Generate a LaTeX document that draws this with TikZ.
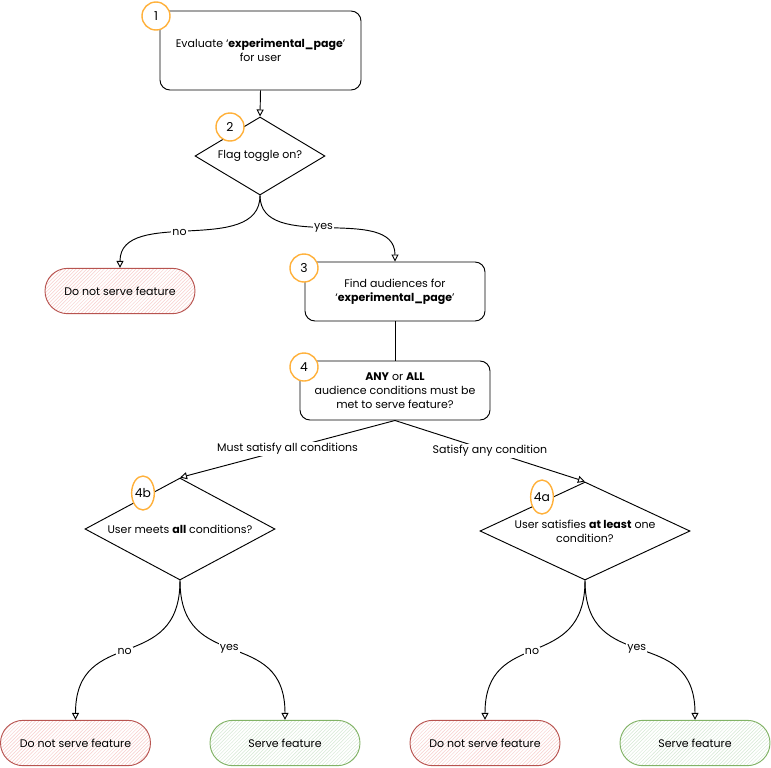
\documentclass[tikz,border=0pt]{standalone}
\usepackage{fontspec}
\setmainfont{Poppins}
\usetikzlibrary{arrows.meta, shapes.geometric, patterns}

\definecolor{badgeorange}{HTML}{FFB13B}
\definecolor{nostroke}{HTML}{B85450}
\definecolor{nofill}{HTML}{F8CECC}
\definecolor{yesstroke}{HTML}{82B366}
\definecolor{yesfill}{HTML}{D5E8D4}

\begin{document}
\begin{tikzpicture}[x=0.3mm, y=-0.3mm, font=\fontsize{9.4}{12}\selectfont,
	stepbox/.style={draw, thick, rounded corners=3mm, align=center, fill=white},
	decision/.style={draw, thick, diamond, inner sep=0, fill=white},
	nopill/.style={draw=nostroke, thick, rounded corners=6.8mm, minimum width=45mm, minimum height=13.6mm,
		preaction={fill=white}, pattern=north east lines, pattern color=nofill},
	yespill/.style={draw=yesstroke, thick, rounded corners=6.8mm, minimum width=45mm, minimum height=13.6mm,
		preaction={fill=white}, pattern=north east lines, pattern color=yesfill},
	badge/.style={draw=badgeorange, line width=1.2pt, fill=white, circle, minimum size=8.4mm, inner sep=0,
		font=\fontsize{10.5}{12}\selectfont},
	tallbadge/.style={badge, ellipse, minimum width=6.6mm, minimum height=10.2mm},
	flow/.style={thick, -{Triangle[open, length=6pt, width=6pt]}},
	tag/.style={fill=white, inner sep=1pt}]
\useasboundingbox (0,0) rectangle (771,767);

\node[stepbox, minimum width=60.3mm, minimum height=23.7mm] (s1) at (260.5,50.5)
	{Evaluate `\textbf{experimental\_page}'\\for user};
\node[decision, minimum width=39mm, minimum height=23.4mm, label={center:Flag toggle on?}] (d2) at (260,156) {};
\node[nopill] (no2) at (120,291) {Do not serve feature};
\node[stepbox, minimum width=54mm, minimum height=17.7mm] (s3) at (395,291.5)
	{Find audiences for\\`\textbf{experimental\_page}'};
\node[stepbox, minimum width=57mm, minimum height=17.7mm] (s4) at (395,390.5)
	{\textbf{ANY} or \textbf{ALL}\\audience conditions must be\\met to serve feature?};
\node[decision, minimum width=57mm, minimum height=30.6mm,
	label={center:User meets \textbf{all} conditions?}] (d4b) at (180,529) {};
\node[decision, minimum width=63mm, minimum height=29.4mm,
	label={[align=center]center:User satisfies \textbf{at least} one\\condition?}] (d4a) at (585,531) {};
\node[nopill] (no4b) at (75.5,743) {Do not serve feature};
\node[yespill] (yes4b) at (285,743) {Serve feature};
\node[nopill] (no4a) at (485,743) {Do not serve feature};
\node[yespill] (yes4a) at (695,743) {Serve feature};

\draw[flow] (s1.south) -- (d2.north);
\draw[flow] (d2.south) to[out=-90, in=90] node[tag, pos=0.55] {no} (no2.north);
\draw[flow] (d2.south) to[out=-90, in=90] node[tag, pos=0.48] {yes} (s3.north);
\draw[thick] (s3.south) -- (s4.north);
\draw[flow] (s4.south) -- node[tag, pos=0.5] {Must satisfy all conditions} (d4b.north);
\draw[flow] (s4.south) -- node[tag, pos=0.5] {Satisfy any condition} (d4a.north);
\draw[flow] (d4b.south) to[out=-90, in=90, looseness=1.4] node[tag, pos=0.52] {no} (no4b.north);
\draw[flow] (d4b.south) to[out=-90, in=90, looseness=1.4] node[tag, pos=0.48] {yes} (yes4b.north);
\draw[flow] (d4a.south) to[out=-90, in=90, looseness=1.4] node[tag, pos=0.52] {no} (no4a.north);
\draw[flow] (d4a.south) to[out=-90, in=90, looseness=1.4] node[tag, pos=0.48] {yes} (yes4a.north);

\node[badge] (b1) at (156,16) {1};
\node[badge] (b2) at (230,127) {2};
\node[badge] (b3) at (304,268) {3};
\node[badge] (b4) at (304,367) {4};
\node[tallbadge] (b4b) at (143,493) {4b};
\node[tallbadge] (b4a) at (542,497) {4a};
\end{tikzpicture}
\end{document}
